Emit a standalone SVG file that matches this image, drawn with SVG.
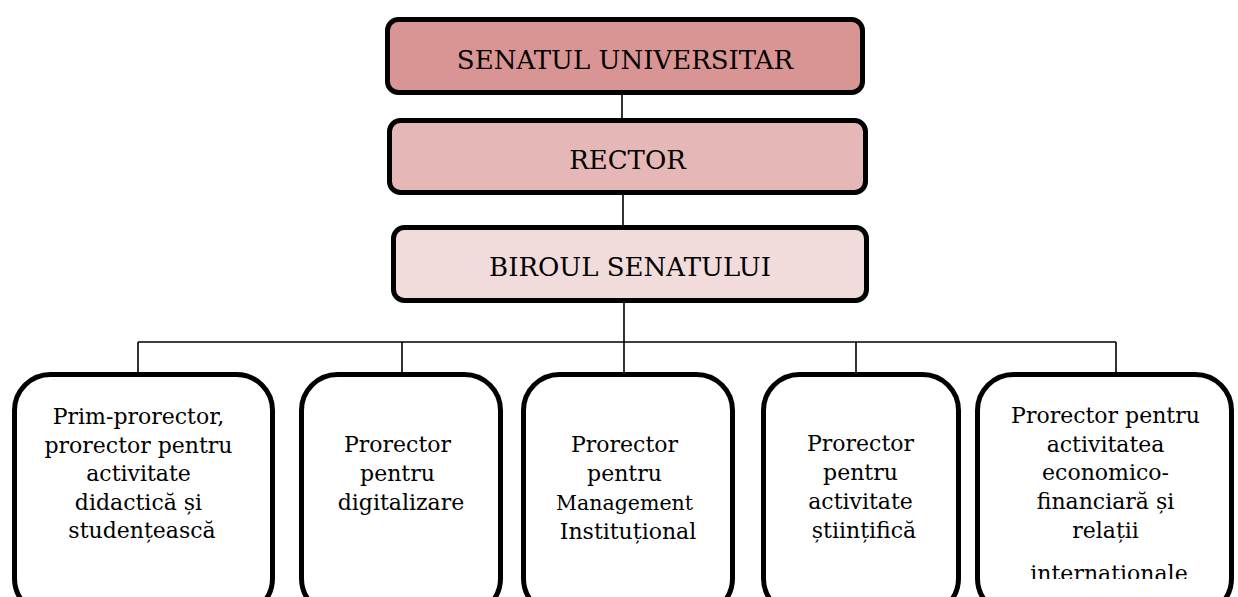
<svg xmlns="http://www.w3.org/2000/svg" width="1238" height="597" viewBox="0 0 1238 597">
<style>
  .top { stroke: #000; stroke-width: 5; }
  .sub { fill: #fff; stroke: #000; stroke-width: 5; }
  .t { font-family: "DejaVu Serif", "Liberation Serif", serif; font-size: 22px; fill: #000; text-anchor: middle; }
  .h { font-size: 26px; }
  .conn { fill: none; stroke: #000; stroke-width: 1.6; }
</style>
<defs>
  <clipPath id="clip5"><rect x="975" y="373" width="260" height="206"/></clipPath>
</defs>
<rect width="1238" height="597" fill="#fff"/>
<g id="connectors">
  <path class="conn" d="M622 95 V118 M623 195 V225 M624 303 V372 M138 342 H1116 M138 342 V372 M402 342 V372 M856 342 V372 M1116 342 V372"/>
</g>
<g id="senat">
  <rect class="top" x="387.5" y="19.5" width="475" height="73" rx="11" fill="#D99594"/>
  <text class="t h" x="625" y="69">SENATUL UNIVERSITAR</text>
</g>
<g id="rector">
  <rect class="top" x="389.5" y="120.5" width="476" height="72" rx="11" fill="#E5B8B7"/>
  <text class="t h" x="627.5" y="169">RECTOR</text>
</g>
<g id="birou">
  <rect class="top" x="393.5" y="227.5" width="473" height="73" rx="11" fill="#F2DBDB"/>
  <text class="t h" x="630" y="276">BIROUL SENATULUI</text>
</g>
<g id="prim-prorector">
  <rect class="sub" x="14.5" y="374.5" width="258" height="240" rx="36"/>
  <text class="t" x="142">
    <tspan x="142" y="424">Prim-prorector,</tspan>
    <tspan x="142" y="452.5">prorector pentru</tspan>
    <tspan x="142" y="481">activitate</tspan>
    <tspan x="142" y="509.5">didactică și</tspan>
    <tspan x="142" y="538">studențească</tspan>
  </text>
</g>
<g id="prorector-digitalizare">
  <rect class="sub" x="301.5" y="374.5" width="199" height="240" rx="36"/>
  <text class="t" x="401">
    <tspan x="401" y="452">Prorector</tspan>
    <tspan x="401" y="481">pentru</tspan>
    <tspan x="401" y="510">digitalizare</tspan>
  </text>
</g>
<g id="prorector-management">
  <rect class="sub" x="523.5" y="374.5" width="209" height="240" rx="36"/>
  <text class="t" x="628">
    <tspan x="628" y="452">Prorector</tspan>
    <tspan x="628" y="481">pentru</tspan>
    <tspan x="628" y="510" font-size="20.5">Management</tspan>
    <tspan x="628" y="539">Instituțional</tspan>
  </text>
</g>
<g id="prorector-stiintific">
  <rect class="sub" x="763.5" y="374.5" width="195" height="240" rx="36"/>
  <text class="t" x="864">
    <tspan x="864" y="451">Prorector</tspan>
    <tspan x="864" y="480">pentru</tspan>
    <tspan x="864" y="509">activitate</tspan>
    <tspan x="864" y="538">științifică</tspan>
  </text>
</g>
<g id="prorector-economic">
  <rect class="sub" x="977.5" y="374.5" width="254" height="240" rx="36"/>
  <text class="t" x="1109" clip-path="url(#clip5)">
    <tspan x="1109" y="423">Prorector pentru</tspan>
    <tspan x="1109" y="451.7">activitatea</tspan>
    <tspan x="1109" y="480.4">economico-</tspan>
    <tspan x="1109" y="509">financiară și</tspan>
    <tspan x="1109" y="537.7">relații</tspan>
    <tspan x="1109" y="581">internationale</tspan>
  </text>
</g>
</svg>
